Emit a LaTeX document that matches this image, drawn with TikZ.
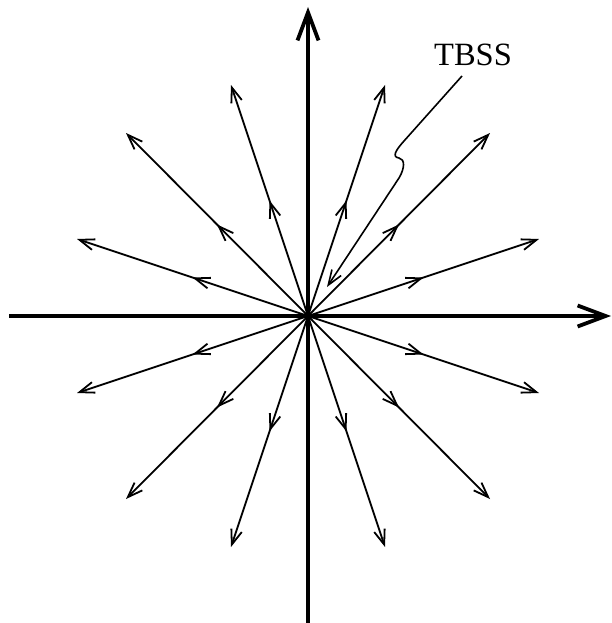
\documentclass[tikz,border=0pt]{standalone}
\usepackage{fontspec}
\setmainfont{Liberation Serif}
\usetikzlibrary{arrows.meta,decorations.markings}
\begin{document}
\begin{tikzpicture}[x=1pt,y=-1pt,
  axis/.style={line width=3.8pt,-{Straight Barb[length=28pt,width=21pt]}},
  tipstyle/.style={-{Straight Barb[length=15pt,width=11pt]}},
  ray/.style={line width=1.8pt,tipstyle,postaction={decorate},
    decoration={markings,mark=at position 0.5 with {\arrow{Straight Barb[length=15pt,width=11pt]}}}},
  pointer/.style={line width=1.6pt,tipstyle},
  lbl/.style={font=\fontsize{32.5}{36}\selectfont,inner sep=0pt}]
\useasboundingbox (0,0) rectangle (612,623);
\coordinate (O) at (308,316);
\coordinate (xl) at (9,316);
\coordinate (xr) at (611,316);
\coordinate (yb) at (308,623);
\coordinate (yt) at (308,7);
% ray ends
\coordinate (e1) at (231,85);
\coordinate (e2) at (385,85);
\coordinate (e3) at (126,133);
\coordinate (e4) at (490,133);
\coordinate (e5) at (77,239);
\coordinate (e6) at (539,239);
\coordinate (e7) at (77,393);
\coordinate (e8) at (539,393);
\coordinate (e9) at (126,499);
\coordinate (e10) at (490,499);
\coordinate (e11) at (231,547);
\coordinate (e12) at (385,547);
\draw[axis] (xl) -- (xr);
\draw[axis] (yb) -- (yt);
\foreach \e in {e1,e2,e3,e4,e5,e6,e7,e8,e9,e10,e11,e12}
  \draw[ray] (O) -- (\e);
\node[lbl] (tbss) at (473,55) {TBSS};
\coordinate (p0) at (462,76);
\coordinate (ptip) at (327,287);
\draw[pointer] (p0) -- (404,141) .. controls (395,151) and (392,157) .. (399,158)
  .. controls (405,159) and (405,168) .. (399,178) -- (ptip);
\end{tikzpicture}
\end{document}
